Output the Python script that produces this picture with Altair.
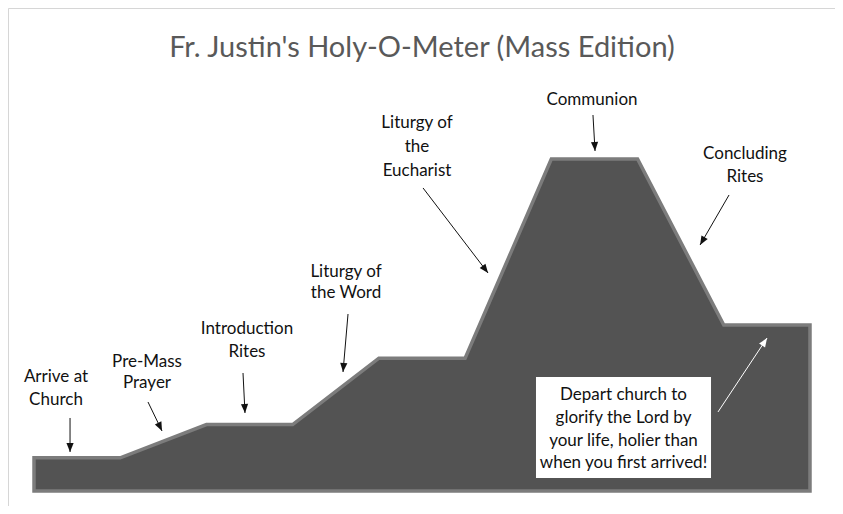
import math
import altair as alt
import pandas as pd

# ---- data ----
steps = list(range(10))
holiness = [1, 1, 2, 2, 4, 4, 10, 10, 5, 5]

title_text = "Fr. Justin's Holy-O-Meter (Mass Edition)"
title_x = [4.5]
title_y = [13.34]

label_lines = ["Arrive at", "Church", "Pre-Mass", "Prayer", "Introduction", "Rites",
               "Liturgy of", "the Word", "Liturgy of", "the", "Eucharist",
               "Communion", "Concluding", "Rites"]
label_x = [0.255, 0.255, 1.311, 1.311, 2.470, 2.470, 3.619, 3.619,
           4.442, 4.442, 4.442, 6.472, 8.246, 8.246]
label_y = [3.434, 2.741, 3.886, 3.253, 4.880, 4.187, 6.596, 5.964,
           11.084, 10.361, 9.639, 11.789, 10.151, 9.458]

arrow_x0 = [0.418, 1.322, 2.424, 3.642, 4.512, 6.483, 8.061]
arrow_y0 = [2.199, 2.681, 3.554, 5.331, 9.127, 11.325, 8.916]
arrow_x1 = [0.418, 1.485, 2.447, 3.584, 5.266, 6.507, 7.725]
arrow_y1 = [1.175, 1.807, 2.349, 3.584, 6.566, 10.241, 7.410]

note_lines = ["Depart church to", "glorify the Lord by",
              "your life, holier than", "when you first arrived!"]
note_x = [6.837, 6.837, 6.837, 6.837]
note_y = [2.892, 2.199, 1.506, 0.843]
note_box_x = [5.822]
note_box_x2 = [7.852]
note_box_y = [0.392]
note_box_y2 = [3.434]
note_arrow_x0 = [7.933]
note_arrow_y0 = [2.380]
note_arrow_x1 = [8.502]
note_arrow_y1 = [4.608]

# ---- scales ----
X_DOMAIN = [-0.3016, 9.290]
Y_DOMAIN = [-0.4518, 14.548]
W, H = 827, 498
PX_X = W / (X_DOMAIN[1] - X_DOMAIN[0])
PX_Y = H / (Y_DOMAIN[1] - Y_DOMAIN[0])

xs = alt.Scale(domain=X_DOMAIN, nice=False, zero=False)
ys = alt.Scale(domain=Y_DOMAIN, nice=False, zero=False)
FONT = "Lato"


def heading(x0, y0, x1, y1):
    dx = (x1 - x0) * PX_X
    dy = -(y1 - y0) * PX_Y
    return math.degrees(math.atan2(dx, -dy)) % 360


area_df = pd.DataFrame({"step": steps, "holiness": holiness, "base": [0] * len(steps)})
area = alt.Chart(area_df).mark_area(
    color="#535353", stroke="#7c7c7c", strokeWidth=3.5, strokeJoin="miter", interpolate="linear"
).encode(
    x=alt.X("step:Q", scale=xs, axis=None),
    y=alt.Y("holiness:Q", scale=ys, axis=None),
    y2="base:Q",
)

title_df = pd.DataFrame({"x": title_x, "y": title_y, "t": [title_text]})
title = alt.Chart(title_df).mark_text(
    font=FONT, fontSize=29, color="#595959", align="center", baseline="middle"
).encode(x=alt.X("x:Q", scale=xs), y=alt.Y("y:Q", scale=ys), text="t:N")

labels_df = pd.DataFrame({"x": label_x, "y": label_y, "t": label_lines})
labels = alt.Chart(labels_df).mark_text(
    font=FONT, fontSize=17, color="#111111", align="center", baseline="middle"
).encode(x=alt.X("x:Q", scale=xs), y=alt.Y("y:Q", scale=ys), text="t:N")

arrows_df = pd.DataFrame({"x0": arrow_x0, "y0": arrow_y0, "x1": arrow_x1, "y1": arrow_y1})
arrows_df["angle"] = [heading(a, b, c, d) for a, b, c, d in zip(arrow_x0, arrow_y0, arrow_x1, arrow_y1)]
HEAD = "M0,0L-0.4,1L0.4,1Z"
shafts = alt.Chart(arrows_df).mark_rule(color="#111111", strokeWidth=1).encode(
    x=alt.X("x0:Q", scale=xs), y=alt.Y("y0:Q", scale=ys), x2="x1:Q", y2="y1:Q"
)
heads = alt.Chart(arrows_df).mark_point(
    shape=HEAD, filled=True, color="#111111", opacity=1, size=324, strokeWidth=0
).encode(
    x=alt.X("x1:Q", scale=xs), y=alt.Y("y1:Q", scale=ys),
    angle=alt.Angle("angle:Q", scale=None),
)

box_df = pd.DataFrame({"x": note_box_x, "x2": note_box_x2, "y": note_box_y, "y2": note_box_y2})
box = alt.Chart(box_df).mark_rect(color="white").encode(
    x=alt.X("x:Q", scale=xs), x2="x2:Q", y=alt.Y("y:Q", scale=ys), y2="y2:Q"
)
note_df = pd.DataFrame({"x": note_x, "y": note_y, "t": note_lines})
note = alt.Chart(note_df).mark_text(
    font=FONT, fontSize=17, color="#111111", align="center", baseline="middle"
).encode(x=alt.X("x:Q", scale=xs), y=alt.Y("y:Q", scale=ys), text="t:N")

warr_df = pd.DataFrame({"x0": note_arrow_x0, "y0": note_arrow_y0,
                        "x1": note_arrow_x1, "y1": note_arrow_y1})
warr_df["angle"] = [heading(a, b, c, d) for a, b, c, d in
                    zip(note_arrow_x0, note_arrow_y0, note_arrow_x1, note_arrow_y1)]
wshaft = alt.Chart(warr_df).mark_rule(color="white", strokeWidth=1).encode(
    x=alt.X("x0:Q", scale=xs), y=alt.Y("y0:Q", scale=ys), x2="x1:Q", y2="y1:Q"
)
whead = alt.Chart(warr_df).mark_point(
    shape=HEAD, filled=True, color="white", opacity=1, size=324, strokeWidth=0
).encode(
    x=alt.X("x1:Q", scale=xs), y=alt.Y("y1:Q", scale=ys),
    angle=alt.Angle("angle:Q", scale=None),
)

chart = alt.layer(area, title, labels, shafts, heads, box, note, wshaft, whead).properties(
    width=W, height=H,
    autosize=alt.AutoSizeParams(type="none"),
    padding={"left": 0, "top": 0, "right": 0, "bottom": 0},
    background="#efefef",
).configure_view(fill="white", stroke="#d6d6d6", strokeWidth=1)

chart.save("out.html", embed_options={"renderer": "svg", "actions": False})
